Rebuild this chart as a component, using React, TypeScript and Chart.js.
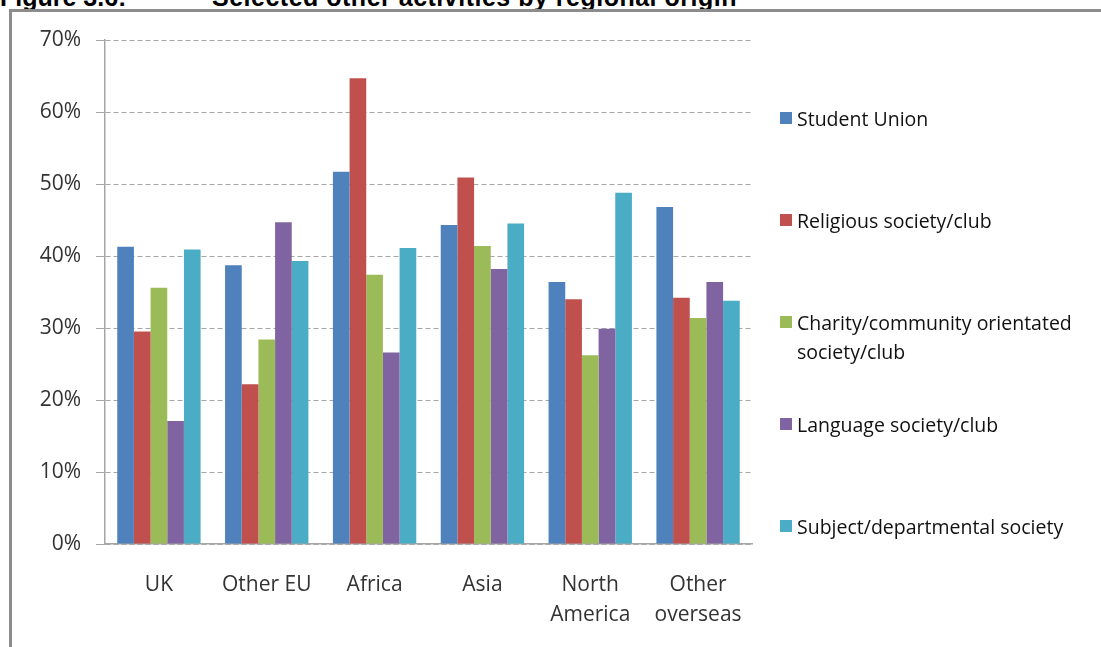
import React, { useEffect, useRef } from 'react';
import { Chart, registerables } from 'chart.js';

Chart.register(...registerables);

const categories: string[][] = [['UK'], ['Other EU'], ['Africa'], ['Asia'], ['North', 'America'], ['Other', 'overseas']];
const seriesNames: string[] = [
  'Student Union',
  'Religious society/club',
  'Charity/community orientated society/club',
  'Language society/club',
  'Subject/departmental society',
];
const legendLines: string[][] = [
  ['Student Union'],
  ['Religious society/club'],
  ['Charity/community orientated', 'society/club'],
  ['Language society/club'],
  ['Subject/departmental society'],
];
const studentUnion: number[] = [41.3, 38.7, 51.7, 44.3, 36.4, 46.8];
const religious: number[] = [29.5, 22.2, 64.7, 50.9, 34.0, 34.2];
const charity: number[] = [35.6, 28.4, 37.4, 41.4, 26.2, 31.4];
const language: number[] = [17.1, 44.7, 26.6, 38.2, 29.9, 36.4];
const subject: number[] = [40.9, 39.3, 41.1, 44.5, 48.8, 33.8];
const seriesValues: number[][] = [studentUnion, religious, charity, language, subject];
const colors: string[] = ['#4F81BD', '#C0504D', '#9BBB59', '#8064A2', '#4BACC6'];
const yMin = 0;
const yMax = 70;
const yStep = 10;

const FONT = "'Open Sans', 'Liberation Sans', sans-serif";

export default function App() {
  const canvasRef = useRef<HTMLCanvasElement | null>(null);

  useEffect(() => {
    const canvas = canvasRef.current;
    if (!canvas) return;
    const chart = new Chart(canvas, {
      type: 'bar',
      data: {
        labels: categories as any,
        datasets: seriesNames.map((name, i) => ({
          label: name,
          data: seriesValues[i],
          backgroundColor: colors[i],
          borderWidth: 0,
          barPercentage: 1,
          categoryPercentage: 0.773,
        })),
      },
      options: {
        responsive: false,
        animation: false,
        devicePixelRatio: 1,
        layout: { padding: { left: 12, right: 349, top: 40, bottom: 0 } },
        plugins: {
          legend: { display: false },
          tooltip: { enabled: false },
          title: { display: false },
        },
        scales: {
          x: {
            grid: { display: false, drawTicks: false },
            border: { display: true, color: '#A6A6A6', width: 1.5 },
            ticks: {
              color: '#333333',
              font: { family: FONT, size: 21, lineHeight: 1.43 },
              padding: 26,
              maxRotation: 0,
              autoSkip: false,
            },
            afterFit: (scale: any) => {
              scale.height = 103;
            },
          },
          y: {
            min: yMin,
            max: yMax,
            ticks: {
              stepSize: yStep,
              color: '#333333',
              font: { family: FONT, size: 21 },
              padding: 15,
              callback: (v: any) => `${v}%`,
            },
            grid: {
              color: '#A6A6A6',
              lineWidth: 1,
              tickLength: 9,
              drawTicks: true,
            },
            border: { display: true, color: '#A6A6A6', width: 1.5, dash: [5, 3] } as any,
            afterFit: (scale: any) => {
              scale.width = 93;
              scale.paddingTop = 0;
              scale.paddingBottom = 0;
            },
          },
        },
      },
    } as any);
    return () => chart.destroy();
  }, []);

  return (
    <div
      style={{
        position: 'absolute',
        left: 0,
        top: 0,
        width: 1101,
        height: 647,
        overflow: 'hidden',
        background: '#ffffff',
      }}
    >
      <div
        style={{
          position: 'absolute',
          left: 0,
          top: -15,
          whiteSpace: 'nowrap',
          fontFamily: "'Liberation Sans', Arial, sans-serif",
          fontWeight: 'bold',
          fontSize: 25,
          lineHeight: '25px',
          color: '#000',
        }}
      >
        <span style={{ position: 'absolute', left: 0 }}>Figure 3.6:</span>
        <span style={{ position: 'absolute', left: 212, letterSpacing: '0.5px' }}>
          Selected other activities by regional origin
        </span>
      </div>
      <div
        style={{
          position: 'absolute',
          left: 9,
          top: 9,
          width: 1200,
          height: 800,
          borderLeft: '3px solid #8C8C8C',
          borderTop: '3px solid #8C8C8C',
        }}
      />
      <canvas
        ref={canvasRef}
        width={1101}
        height={647}
        style={{ position: 'absolute', left: 0, top: 0, width: 1101, height: 647, display: 'block' }}
      />
      {legendLines.map((lines, i) => (
        <div
          key={i}
          style={{ position: 'absolute', left: 780, top: 112 + i * 102, width: 320 }}
        >
          <div
            style={{
              position: 'absolute',
              left: 0,
              top: 0,
              width: 12,
              height: 12,
              background: colors[i],
            }}
          />
          <div
            style={{
              position: 'absolute',
              left: 17,
              top: -7,
              fontFamily: FONT,
              fontSize: 19.5,
              lineHeight: '28.5px',
              color: '#111',
              whiteSpace: 'nowrap',
            }}
          >
            {lines.map((l, j) => (
              <div key={j}>{l}</div>
            ))}
          </div>
        </div>
      ))}
    </div>
  );
}
